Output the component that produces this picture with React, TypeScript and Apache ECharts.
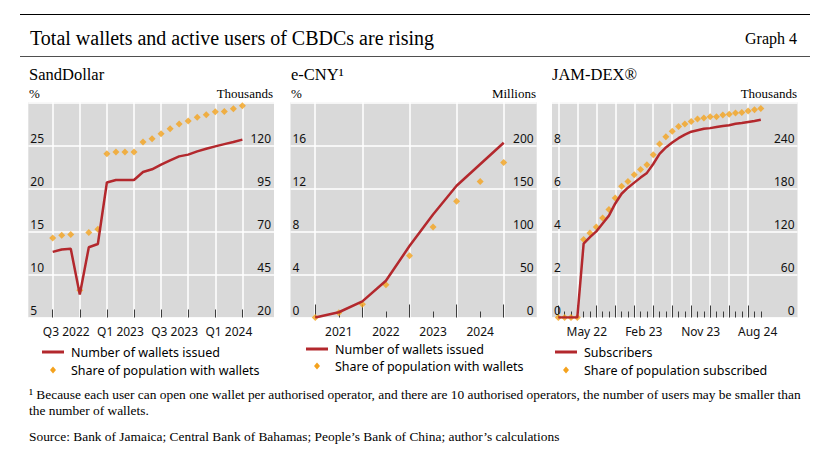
import React, { useEffect, useRef } from 'react';
import * as echarts from 'echarts';

// ---------- SandDollar (monthly, month 0 = Jul 2022) ----------
const sdMonths = [0, 1, 2, 3, 4, 5, 6, 7, 8, 9, 10, 11, 12, 13, 14, 15, 16, 17, 18, 19, 20, 21];
const sdWallets = [58.1, 59.5, 59.9, 33.4, 60.8, 62.7, 98.4, 99.9, 99.9, 99.9, 104.5, 106.1, 108.8, 111.3, 113.6, 114.6, 116.5, 118.0, 119.4, 120.7, 121.9, 123.3];
const sdShare = [14.25, 14.56, 14.64, 8.18, 14.87, 15.25, 24.03, 24.23, 24.23, 24.23, 25.4, 25.77, 26.36, 26.94, 27.47, 27.82, 28.25, 28.56, 28.9, 28.94, 29.25, 29.6];
const sdTicks = [0, 3, 6, 9, 12, 15, 18, 21];
const sdLabelPos = [1.5, 7.5, 13.5, 19.5];
const sdLabels = ['Q3 2022', 'Q1 2023', 'Q3 2023', 'Q1 2024'];
const sdRightTicks = [20, 45, 70, 95, 120];

// ---------- e-CNY (half-yearly, index 0 = end-2020) ----------
const ecnyPeriods = [0, 1, 2, 3, 4, 5, 6, 7, 8];
const ecnyWallets = [0, 6.1, 18.8, 42.7, 83, 119.7, 153, 178, 203];
const ecnyShare = [0, 0.43, 1.23, 3.05, 5.75, 8.4, 10.8, 12.65, 14.4];
const ecnyMajorTicks = [0, 2, 4, 6, 8];
const ecnyMinorTicks = [1, 3, 5, 7];
const ecnyLabelPos = [1, 3, 5, 7];
const ecnyLabels = ['2021', '2022', '2023', '2024'];

// ---------- JAM-DEX (monthly, month 0 = May 2022) ----------
const jamMonths = [-4, -3, -2, -1, 0, 1, 2, 3, 4, 5, 6, 7, 8, 9, 10, 11, 12, 13, 14, 15, 16, 17, 18, 19, 20, 21, 22, 23, 24, 25, 26, 27, 28];
const jamSubscribers = [0, 0, 0, 0, 103, 112, 120, 131, 142, 159, 172.5, 181, 188, 195, 201.6, 214, 228, 237, 244, 250, 255, 259, 261, 263, 264, 265.5, 267, 268, 270, 271, 272.5, 274, 275.7];
const jamShare = [0, 0, 0, 0, 3.62, 3.93, 4.2, 4.62, 5.02, 5.55, 6.1, 6.32, 6.63, 6.88, 7.1, 7.56, 8.06, 8.4, 8.65, 8.87, 8.99, 9.11, 9.22, 9.27, 9.33, 9.33, 9.41, 9.44, 9.5, 9.53, 9.59, 9.65, 9.71];
const jamMajorTicks = [-4, -1, 2, 5, 8, 11, 14, 17, 20, 23, 26];
const jamMinorTicks = jamMonths.filter((m) => jamMajorTicks.indexOf(m) < 0);
const jamLabelPos = [0.5, 9.5, 18.5, 27.5];
const jamLabels = ['May 22', 'Feb 23', 'Nov 23', 'Aug 24'];

const SERIF = '"Liberation Serif", "Times New Roman", serif';
const SANS = '"Noto Sans", "Open Sans", sans-serif';
const RED = '#b3282d';
const ORANGE = '#f4a21d';
const BG = '#d9d9d9';
const TICK = '#3c3c3c';

const GRID_TOP = 102.3;
const GRID_H = 215.2;

function mainX(gridIndex: number, min: number, max: number, ticks: number[], len: number, labelPos: number[], labels: string[]) {
  return {
    type: 'value', gridIndex, min, max, position: 'bottom',
    axisLine: { show: false, onZero: false },
    axisTick: { show: true, inside: true, length: len, customValues: ticks, lineStyle: { color: TICK, width: 1 } },
    splitLine: { show: true, lineStyle: { color: '#ffffff', width: 1.5 } },
    axisLabel: {
      show: true, customValues: labelPos, margin: 8, color: '#111', fontSize: 12, fontFamily: SANS,
      formatter: (v: number) => {
        const i = labelPos.findIndex((p) => Math.abs(p - v) < 1e-6);
        return i >= 0 ? labels[i] : '';
      },
    },
  };
}

function minorX(gridIndex: number, min: number, max: number, ticks: number[], len: number) {
  return {
    type: 'value', gridIndex, min, max, position: 'bottom',
    axisLine: { show: false, onZero: false },
    axisTick: { show: true, inside: true, length: len, customValues: ticks, lineStyle: { color: TICK, width: 1 } },
    splitLine: { show: false },
    axisLabel: { show: false },
  };
}

function leftY(gridIndex: number, min: number, max: number, interval: number) {
  return {
    type: 'value', gridIndex, min, max, interval, position: 'left',
    axisLine: { show: false }, axisTick: { show: false },
    splitLine: { show: true, lineStyle: { color: '#ffffff', width: 1.5 } },
    axisLabel: { inside: true, margin: 2, verticalAlign: 'bottom', showMaxLabel: false, color: '#111', fontSize: 12, fontFamily: SANS, padding: [0, 0, 1, 0] },
  };
}

function rightY(gridIndex: number, min: number, max: number, custom: number[] | null, interval?: number) {
  const label: any = { inside: true, margin: 3, verticalAlign: 'bottom', color: '#111', fontSize: 12, fontFamily: SANS, padding: [0, 0, 1, 0] };
  if (custom) label.customValues = custom;
  else label.showMaxLabel = false;
  const ax: any = {
    type: 'value', gridIndex, min, max, position: 'right',
    axisLine: { show: false }, axisTick: { show: false }, splitLine: { show: false },
    axisLabel: label,
  };
  if (interval) ax.interval = interval;
  return ax;
}

function txt(t: string, x: number, y: number, size: number, align = 'left', family = SERIF) {
  return {
    type: 'text', x, y, silent: true,
    style: { text: t, fontSize: size, fontFamily: family, fill: '#000', align, textAlign: align, verticalAlign: 'middle', textVerticalAlign: 'middle' },
  };
}

function legLine(x1: number, x2: number, y: number) {
  return { type: 'line', silent: true, shape: { x1, y1: y, x2, y2: y }, style: { stroke: RED, lineWidth: 3 } };
}

function legDiamond(cx: number, cy: number) {
  return { type: 'polygon', silent: true, shape: { points: [[cx, cy - 3.5], [cx + 3, cy], [cx, cy + 3.5], [cx - 3, cy]] }, style: { fill: ORANGE } };
}

function pairs(xs: number[], ys: number[]) {
  return xs.map((x, i) => [x, ys[i]]);
}

export default function App() {
  const ref = useRef<HTMLDivElement>(null);
  useEffect(() => {
    if (!ref.current) return;
    const chart = echarts.init(ref.current, null, { renderer: 'svg' });
    const gridBase = { top: GRID_TOP, height: GRID_H, show: true, backgroundColor: BG, borderWidth: 0, containLabel: false, outerBoundsMode: 'none' };
    const option: any = {
      animation: false,
      backgroundColor: '#ffffff',
      grid: [
        { ...gridBase, left: 28.3, width: 245.7 },
        { ...gridBase, left: 290.5, width: 246.2 },
        { ...gridBase, left: 552, width: 245.5 },
      ],
      xAxis: [
        mainX(0, -2.7, 24.5, sdTicks, 8, sdLabelPos, sdLabels),
        mainX(1, -1.05, 9.4, ecnyMajorTicks, 13, ecnyLabelPos, ecnyLabels),
        minorX(1, -1.05, 9.4, ecnyMinorTicks, 6),
        mainX(2, -5, 33.8, jamMajorTicks, 12, jamLabelPos, jamLabels),
        minorX(2, -5, 33.8, jamMinorTicks, 6),
      ],
      yAxis: [
        leftY(0, 5, 30, 5),
        rightY(0, 20, 145, sdRightTicks),
        leftY(1, 0, 20, 4),
        rightY(1, 0, 250, null, 50),
        leftY(2, 0, 10, 2),
        rightY(2, 0, 300, null, 60),
      ],
      series: [
        { type: 'line', name: 'Number of wallets issued', xAxisIndex: 0, yAxisIndex: 1, data: pairs(sdMonths, sdWallets), symbol: 'none', lineStyle: { color: RED, width: 2.5 }, itemStyle: { color: RED } },
        { type: 'scatter', name: 'Share of population with wallets', xAxisIndex: 0, yAxisIndex: 0, data: pairs(sdMonths, sdShare), symbol: 'diamond', symbolSize: 7, itemStyle: { color: ORANGE } },
        { type: 'line', name: 'Number of wallets issued', xAxisIndex: 1, yAxisIndex: 3, data: pairs(ecnyPeriods, ecnyWallets), symbol: 'none', lineStyle: { color: RED, width: 2.5 }, itemStyle: { color: RED } },
        { type: 'scatter', name: 'Share of population with wallets', xAxisIndex: 1, yAxisIndex: 2, data: pairs(ecnyPeriods, ecnyShare), symbol: 'diamond', symbolSize: 7, itemStyle: { color: ORANGE } },
        { type: 'line', name: 'Subscribers', xAxisIndex: 3, yAxisIndex: 5, data: pairs(jamMonths, jamSubscribers), symbol: 'none', lineStyle: { color: RED, width: 2.5 }, itemStyle: { color: RED } },
        { type: 'scatter', name: 'Share of population subscribed', xAxisIndex: 3, yAxisIndex: 4, data: pairs(jamMonths, jamShare), symbol: 'diamond', symbolSize: 7, itemStyle: { color: ORANGE } },
      ],
      graphic: [
        { type: 'line', silent: true, shape: { x1: 20, y1: 14.5, x2: 810, y2: 14.5 }, style: { stroke: '#000', lineWidth: 1 } },
        { type: 'line', silent: true, shape: { x1: 20, y1: 56.5, x2: 810, y2: 56.5 }, style: { stroke: '#222', lineWidth: 0.8 } },
        txt('Total wallets and active users of CBDCs are rising', 30, 38, 20),
        txt('Graph 4', 797, 38, 16, 'right'),
        txt('SandDollar', 29, 74, 16.5),
        txt('e-CNY¹', 291, 74, 16.5),
        txt('JAM-DEX®', 552, 74, 16.5),
        txt('%', 29, 93, 13),
        txt('Thousands', 273, 93, 13, 'right'),
        txt('%', 291, 93, 13),
        txt('Millions', 536, 93, 13, 'right'),
        txt('Thousands', 797, 93, 13, 'right'),
        legLine(42, 64, 352), txt('Number of wallets issued', 71, 352, 12.5, 'left', SANS),
        legDiamond(53, 370), txt('Share of population with wallets', 71, 370, 12.5, 'left', SANS),
        legLine(306, 328, 349), txt('Number of wallets issued', 335, 349, 12.5, 'left', SANS),
        legDiamond(317, 366), txt('Share of population with wallets', 335, 366, 12.5, 'left', SANS),
        legLine(555, 577, 352), txt('Subscribers', 584, 352, 12.5, 'left', SANS),
        legDiamond(566, 370), txt('Share of population subscribed', 584, 370, 12.5, 'left', SANS),
        txt('¹ Because each user can open one wallet per authorised operator, and there are 10 authorised operators, the number of users may be smaller than', 29, 394, 13.4),
        txt('the number of wallets.', 29, 410, 13.4),
        txt('Source: Bank of Jamaica; Central Bank of Bahamas; People’s Bank of China; author’s calculations', 29, 436, 13.4),
      ],
    };
    chart.setOption(option);
    return () => chart.dispose();
  }, []);
  return <div ref={ref} style={{ position: 'fixed', left: 0, top: 0, width: '821px', height: '466px', background: '#fff' }} />;
}
